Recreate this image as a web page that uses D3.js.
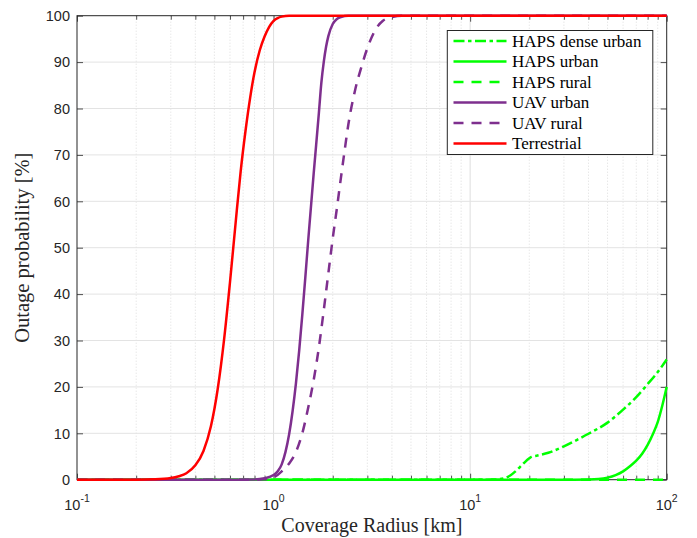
<!DOCTYPE html>
<html><head><meta charset="utf-8">
<script src="https://cdn.jsdelivr.net/npm/d3@7"></script>
<style>body{margin:0;background:#fff;}</style>
</head><body>
<svg id="c" width="697" height="538"></svg>
<script>
// ---- data ----
const xTicks = [0.1, 1, 10, 100];
const xTickExp = ["-1", "0", "1", "2"];
const yTicks = [0, 10, 20, 30, 40, 50, 60, 70, 80, 90, 100];
const seriesNames = ["HAPS dense urban", "HAPS urban", "HAPS rural", "UAV urban", "UAV rural", "Terrestrial"];

const hapsDenseR = [0.1, 10, 13, 14, 15, 16, 17, 18, 19, 20, 20.5, 22, 25, 30, 35, 40, 50, 60, 70, 80, 90, 100];
const hapsDenseV = [0, 0, 0.02, 0.1, 0.35, 0.9, 1.8, 2.8, 3.8, 4.6, 4.9, 5.2, 5.8, 7.2, 8.6, 9.9, 12.3, 15.1, 17.8, 20.6, 23.2, 25.9];

const hapsUrbanR = [0.1, 30, 40, 45, 50, 55, 60, 65, 70, 75, 80, 85, 90, 95, 100];
const hapsUrbanV = [0, 0, 0.05, 0.15, 0.45, 1.0, 1.8, 2.9, 4.1, 5.6, 7.5, 9.8, 12.4, 16, 20];

const hapsRuralR = [0.1, 100];
const hapsRuralV = [0, 0];

const uavUrbanR = [0.1, 0.5, 0.8, 0.9, 1.0, 1.05, 1.1, 1.15, 1.2, 1.25, 1.3, 1.35, 1.4, 1.45, 1.5, 1.6, 1.7, 1.75, 1.8, 1.85, 1.9, 2.0, 2.1, 2.2, 2.4, 100];
const uavUrbanV = [0, 0, 0.05, 0.3, 1, 1.8, 3.3, 6, 9.8, 14.8, 20.8, 27.8, 35.5, 43.5, 51.5, 66, 79, 85.5, 90, 93.3, 95.6, 98.2, 99.3, 99.7, 100, 100];

const uavRuralR = [0.1, 0.8, 0.9, 1.0, 1.1, 1.2, 1.3, 1.4, 1.5, 1.6, 1.7, 1.8, 1.9, 2.0, 2.1, 2.2, 2.3, 2.4, 2.6, 2.8, 3.0, 3.3, 3.6, 4.0, 4.5, 100];
const uavRuralV = [0, 0, 0.1, 0.5, 1.8, 3.5, 6, 10, 15.5, 21.5, 28.5, 36.5, 44.5, 52, 58.5, 65, 71, 76.5, 84, 89, 93, 97, 98.9, 99.7, 100, 100];

const terrR = [0.1, 0.2, 0.25, 0.3, 0.33, 0.36, 0.4, 0.44, 0.48, 0.52, 0.56, 0.6, 0.64, 0.68, 0.72, 0.76, 0.8, 0.85, 0.9, 0.95, 1.0, 1.05, 1.1, 1.2, 100];
const terrV = [0, 0, 0.08, 0.35, 0.75, 1.4, 3.1, 6.2, 11.5, 19.6, 30.2, 42.5, 55, 66.4, 75.2, 82.3, 87.8, 92.5, 95.5, 97.6, 98.9, 99.5, 99.8, 100, 100];

const seriesR = [hapsDenseR, hapsUrbanR, hapsRuralR, uavUrbanR, uavRuralR, terrR];
const seriesV = [hapsDenseV, hapsUrbanV, hapsRuralV, uavUrbanV, uavRuralV, terrV];
const seriesColor = ["#00ff00", "#00ff00", "#00ff00", "#7e2f8e", "#7e2f8e", "#ff0000"];
const seriesDash = ["11,3.5,3.5,3.5", null, "10,8", null, "10,8", null];

// ---- layout ----
const L = 77, R = 666.7, T = 15.7, B = 479.7;
const x = d3.scaleLog().domain([0.1, 100]).range([L, R]);
const y = d3.scaleLinear().domain([0, 100]).range([B, T]);
const svg = d3.select("#c");
const axisCol = "#262626";

// minor x values
const minorX = [];
[0.1, 1, 10].forEach(d => { for (let k = 2; k <= 9; k++) minorX.push(+(d * k).toPrecision(3)); });

// grid
const g = svg.append("g");
g.selectAll(".mg").data(minorX).join("line")
  .attr("x1", d => x(d)).attr("x2", d => x(d)).attr("y1", T).attr("y2", B)
  .attr("stroke", "#d4d4d4").attr("stroke-width", 0.8).attr("stroke-dasharray", "1,2");
g.selectAll(".xg").data(xTicks.slice(1, -1)).join("line")
  .attr("x1", d => x(d)).attr("x2", d => x(d)).attr("y1", T).attr("y2", B)
  .attr("stroke", "#dedede").attr("stroke-width", 1);
g.selectAll(".yg").data(yTicks.slice(1, -1)).join("line")
  .attr("x1", L).attr("x2", R).attr("y1", d => y(d)).attr("y2", d => y(d))
  .attr("stroke", "#e3e3e3").attr("stroke-width", 1);

// axes (ticks inward, on all four sides)
function styleAxis(sel) {
  sel.select(".domain").remove();
  sel.selectAll("line").attr("stroke", axisCol).attr("stroke-width", 0.8);
  sel.selectAll("text").remove();
}
svg.append("g").attr("transform", `translate(0,${B})`)
  .call(d3.axisBottom(x).tickValues(xTicks).tickSize(-6)).call(styleAxis);
svg.append("g").attr("transform", `translate(0,${B})`)
  .call(d3.axisBottom(x).tickValues(minorX).tickSize(-4)).call(styleAxis);
svg.append("g").attr("transform", `translate(0,${T})`)
  .call(d3.axisTop(x).tickValues(xTicks).tickSize(-6)).call(styleAxis);
svg.append("g").attr("transform", `translate(0,${T})`)
  .call(d3.axisTop(x).tickValues(minorX).tickSize(-4)).call(styleAxis);
svg.append("g").attr("transform", `translate(${L},0)`)
  .call(d3.axisLeft(y).tickValues(yTicks).tickSize(-6)).call(styleAxis);
svg.append("g").attr("transform", `translate(${R},0)`)
  .call(d3.axisRight(y).tickValues(yTicks).tickSize(-6)).call(styleAxis);

svg.append("rect").attr("x", L).attr("y", T).attr("width", R - L).attr("height", B - T)
  .attr("fill", "none").attr("stroke", axisCol).attr("stroke-width", 1);

// tick labels
const tickFont = "'Liberation Sans', Arial, Helvetica, sans-serif";
svg.append("g").selectAll("text").data(yTicks).join("text")
  .attr("x", 70).attr("y", d => y(d)).attr("dy", "0.36em")
  .attr("text-anchor", "end").attr("font-family", tickFont).attr("font-size", 14.5)
  .attr("fill", axisCol).text(d => d);
const xl = svg.append("g").selectAll("text").data(xTicks).join("text")
  .attr("x", d => x(d)).attr("y", 509.5)
  .attr("text-anchor", "middle").attr("font-family", tickFont).attr("font-size", 14.5)
  .attr("fill", axisCol);
xl.append("tspan").text("10");
xl.append("tspan").attr("dy", -8).attr("font-size", 10.5).text((d, i) => xTickExp[i]);

// axis labels
const serif = "'Liberation Serif', 'Times New Roman', serif";
svg.append("text").attr("x", (L + R) / 2).attr("y", 532).attr("text-anchor", "middle")
  .attr("font-family", serif).attr("font-size", 20).attr("fill", axisCol)
  .text("Coverage Radius [km]");
svg.append("text").attr("transform", `translate(29,${(T + B) / 2}) rotate(-90)`)
  .attr("text-anchor", "middle").attr("font-family", serif).attr("font-size", 20.5)
  .attr("fill", axisCol).text("Outage probability [%]");

// curves
const line = d3.line().x(d => x(d[0])).y(d => y(d[1])).curve(d3.curveMonotoneX);
seriesR.forEach((rs, i) => {
  const pts = rs.map((r, j) => [r, seriesV[i][j]]);
  svg.append("path").datum(pts).attr("d", line)
    .attr("fill", "none").attr("stroke", seriesColor[i]).attr("stroke-width", 2.5)
    .attr("stroke-dasharray", seriesDash[i]).attr("stroke-linejoin", "round");
});

// legend
const lg = svg.append("g");
lg.append("rect").attr("x", 447.3).attr("y", 30.5).attr("width", 205.5).attr("height", 124)
  .attr("fill", "#fff").attr("stroke", axisCol).attr("stroke-width", 1);
seriesNames.forEach((n, i) => {
  const yy = 41 + i * 20.5;
  lg.append("line").attr("x1", 453.5).attr("x2", 506.5).attr("y1", yy).attr("y2", yy)
    .attr("stroke", seriesColor[i]).attr("stroke-width", 2.5).attr("stroke-dasharray", seriesDash[i]);
  lg.append("text").attr("x", 512).attr("y", yy).attr("dy", "0.33em")
    .attr("font-family", serif).attr("font-size", 17).attr("fill", "#000").text(n);
});
</script>
</body></html>
